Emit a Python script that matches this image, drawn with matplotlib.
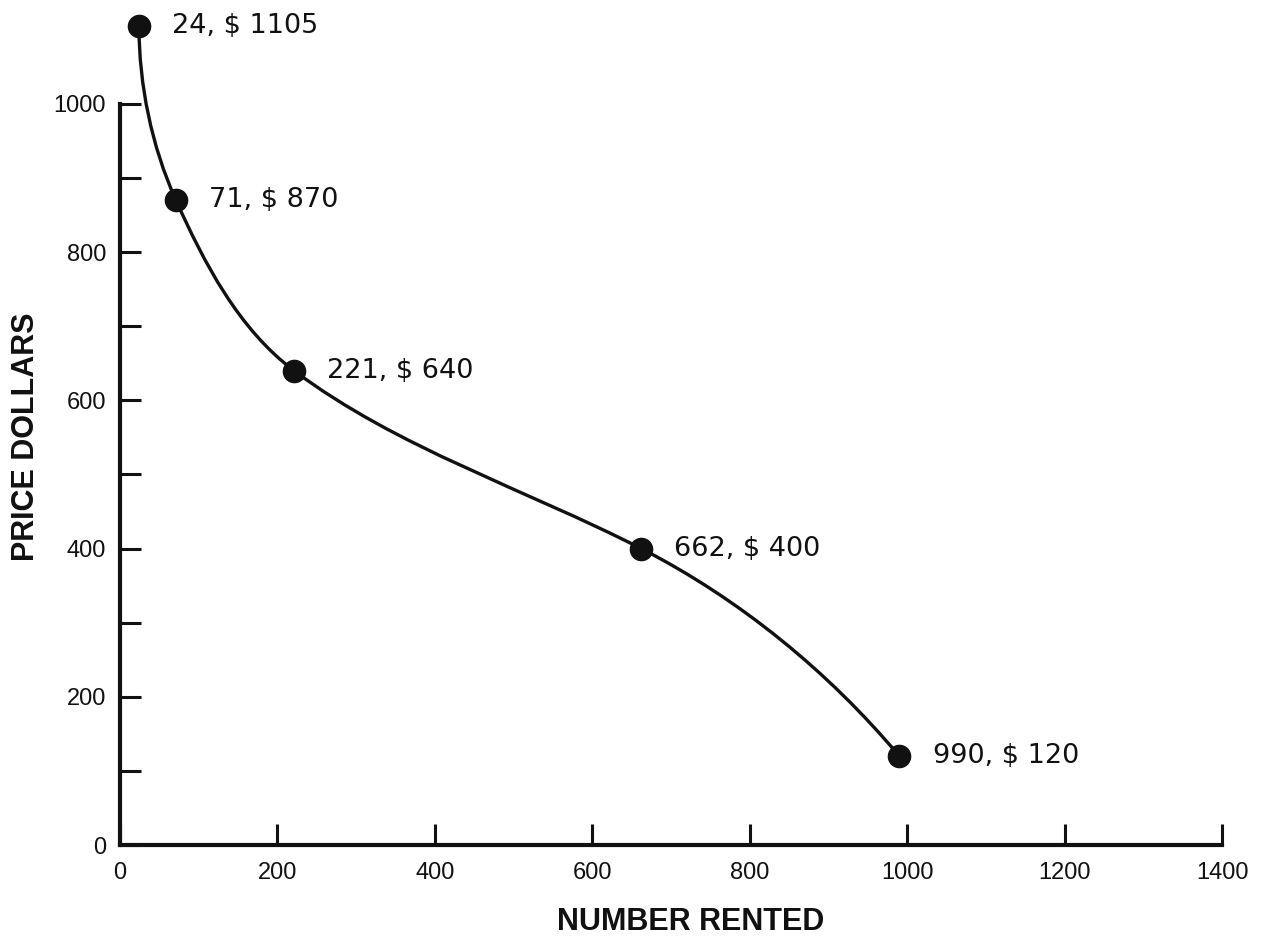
import numpy as np
import matplotlib
matplotlib.use("Agg")
import matplotlib.pyplot as plt
from matplotlib.path import Path
from matplotlib.patches import PathPatch
from matplotlib.ticker import FixedLocator, NullFormatter

# Demand curve: units rented at each monthly price
units = [24, 71, 221, 662, 990]
prices = [1105, 870, 640, 400, 120]

x_ticks = [0, 200, 400, 600, 800, 1000, 1200, 1400]
y_major = [0, 200, 400, 600, 800, 1000]
y_minor = [100, 300, 500, 700, 900]

x_title = "NUMBER RENTED"
y_title = "PRICE DOLLARS"

INK = "#111111"

fig = plt.figure(figsize=(12.68, 9.48), dpi=100)
fig.patch.set_facecolor("white")
ax = fig.add_axes([120 / 1268, 103 / 948, 1102 / 1268, 845 / 948])
ax.set_xlim(0, 1400)
ax.set_ylim(0, 1140)

# Axes frame: only the left and bottom rules, the left one stopping at 1000
for side in ("top", "right"):
    ax.spines[side].set_visible(False)
for side in ("left", "bottom"):
    ax.spines[side].set_linewidth(3.0)
    ax.spines[side].set_color(INK)
ax.spines["left"].set_bounds(0, 1000)
ax.spines["bottom"].set_bounds(0, 1400)

ax.xaxis.set_major_locator(FixedLocator(x_ticks))
ax.set_xticklabels([str(v) for v in x_ticks])
ax.yaxis.set_major_locator(FixedLocator(y_major))
ax.set_yticklabels([str(v) for v in y_major])
ax.yaxis.set_minor_locator(FixedLocator(y_minor))
ax.yaxis.set_minor_formatter(NullFormatter())

ax.tick_params(axis="both", which="both", direction="in", length=15, width=2.2,
               color=INK, labelcolor=INK)
ax.tick_params(axis="x", pad=12)
ax.tick_params(axis="y", pad=10)
for lab in ax.get_xticklabels() + ax.get_yticklabels():
    lab.set_fontfamily("Liberation Sans")
    lab.set_fontsize(17)

# Smooth curve through the points, built as cubic Bezier segments in display space
pts = ax.transData.transform(np.column_stack([units, prices]).astype(float))
n = len(pts)


def unit(v):
    return v / np.linalg.norm(v)


def cross(a, b):
    return a[0] * b[1] - a[1] * b[0]


chords = [unit(pts[i + 1] - pts[i]) for i in range(n - 1)]
turns = [cross(chords[i - 1], chords[i]) for i in range(1, n - 1)]

dirs = [None] * n
for i in range(1, n - 1):
    dirs[i] = unit(pts[i + 1] - pts[i - 1])
    # where the bend reverses, keep the incoming direction so each piece stays one-sided
    if i >= 2 and np.sign(turns[i - 1]) != np.sign(turns[i - 2]):
        dirs[i] = chords[i - 1]
dirs[0] = unit(2 * chords[0] - dirs[1])
dirs[-1] = unit(2 * chords[-1] - dirs[-2])

verts = [pts[0]]
codes = [Path.MOVETO]
for i in range(n - 1):
    seg = np.linalg.norm(pts[i + 1] - pts[i])
    verts += [pts[i] + dirs[i] * seg / 3, pts[i + 1] - dirs[i + 1] * seg / 3, pts[i + 1]]
    codes += [Path.CURVE4] * 3
data_verts = ax.transData.inverted().transform(np.array(verts))
curve = PathPatch(Path(data_verts, codes), transform=ax.transData, fill=False,
                  edgecolor=INK, linewidth=2.4, capstyle="round", zorder=3)
curve.set_clip_on(False)
ax.add_patch(curve)

ax.plot(units, prices, "o", color=INK, markersize=16, zorder=4, clip_on=False)

for u, p in zip(units, prices):
    ax.annotate(f"{u}, $ {p}", xy=(u, p), xytext=(24, 0), textcoords="offset points",
                ha="left", va="center", fontsize=19.5, family="DejaVu Sans",
                color=INK, annotation_clip=False)

label_font = dict(family="Liberation Sans", size=22, weight="bold", color=INK)
ax.set_xlabel(x_title, **label_font)
ax.set_ylabel(y_title, **label_font)
ax.xaxis.set_label_coords(0.518, -0.1006)
ax.xaxis.label.set_verticalalignment("baseline")
ax.yaxis.set_label_coords(-0.0853, 0.483)
ax.yaxis.label.set_verticalalignment("center")

fig.savefig("out.png", dpi=100, facecolor="white")
